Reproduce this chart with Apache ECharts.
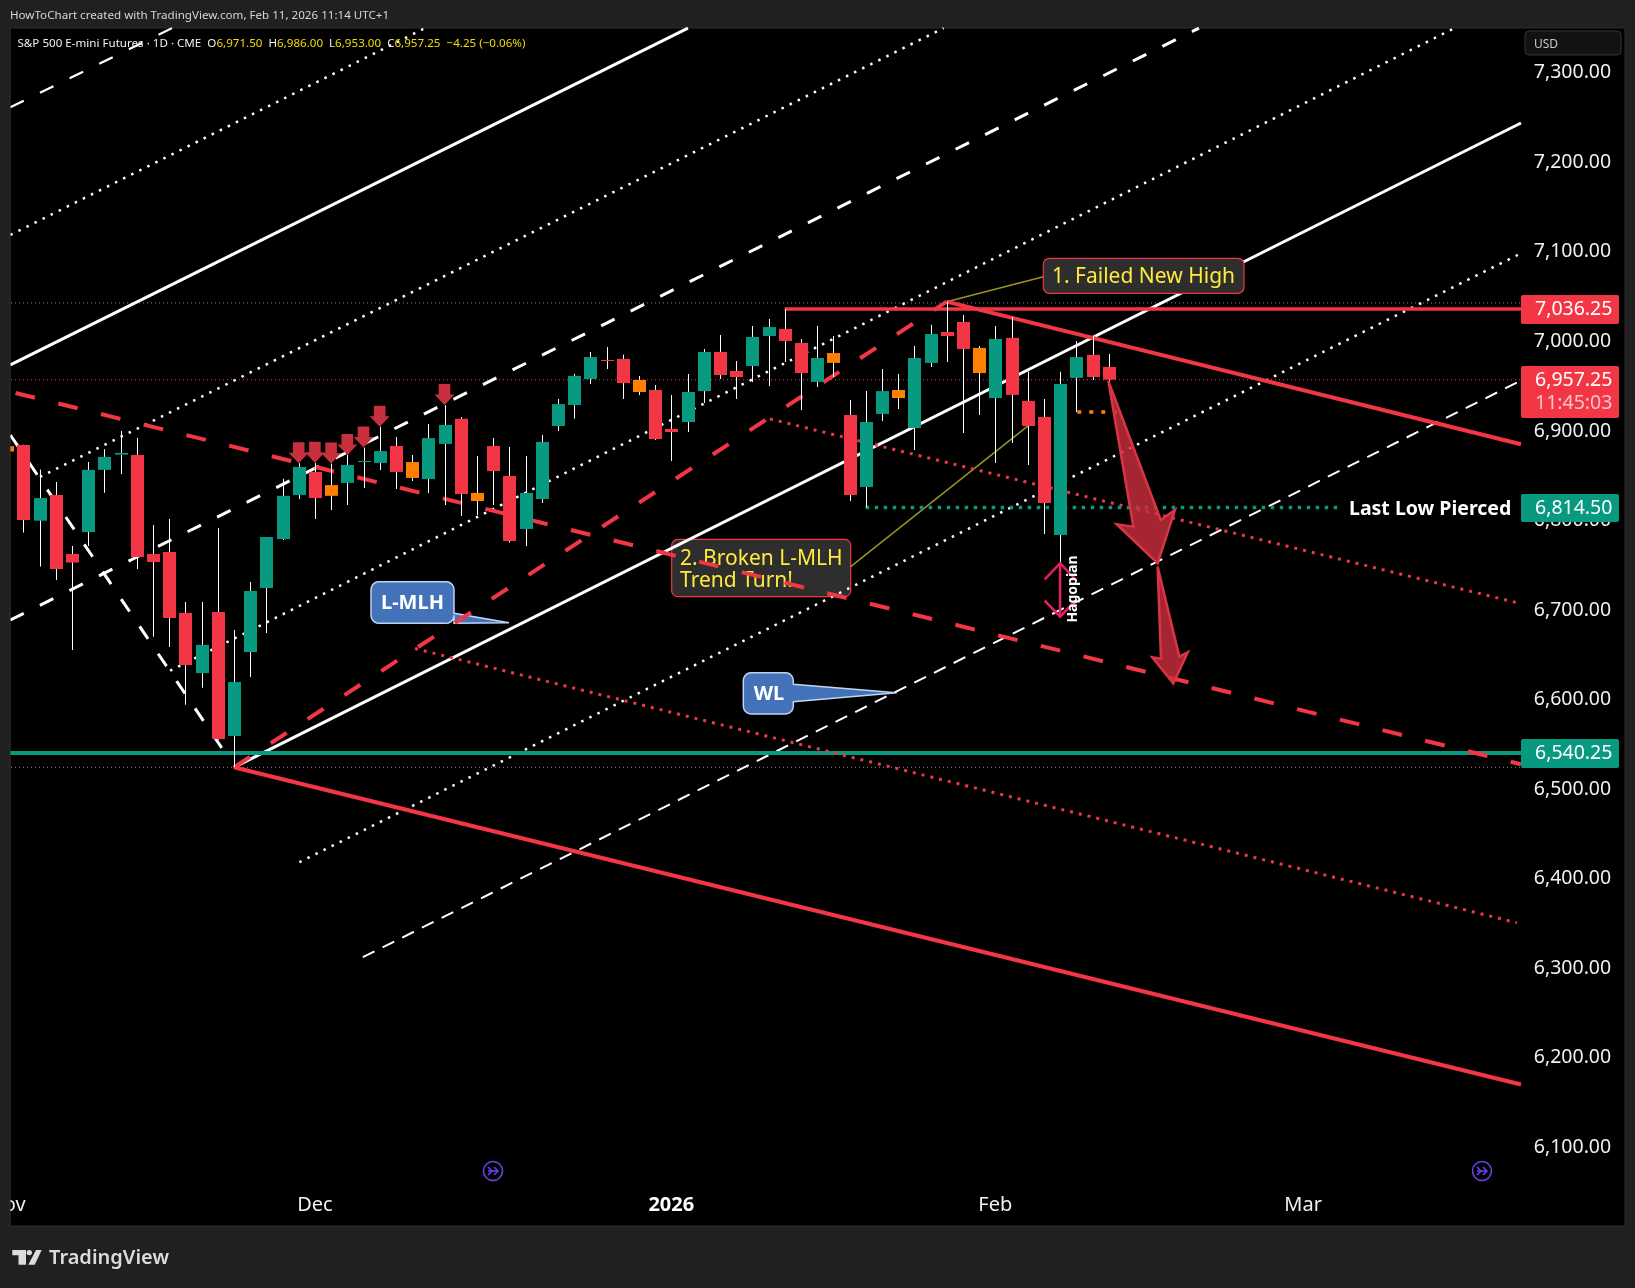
<!DOCTYPE html>
<html>
<head>
<meta charset="utf-8">
<title>S&amp;P 500 E-mini Futures</title>
<script src="https://cdn.jsdelivr.net/npm/echarts@6/dist/echarts.min.js"></script>
<style>
	html, body { margin: 0; padding: 0; background: #202020; }
	#grafico { width: 1635px; height: 1288px; }
</style>
</head>
<body>
<div id="grafico"></div>
<script>
// trading days, one per bar
const dates = [
	'Nov 3','Nov 4','Nov 5','Nov 6','Nov 7','Nov 10','Nov 11','Nov 12','Nov 13','Nov 14','Nov 17','Nov 18','Nov 19','Nov 20','Nov 21','Nov 24','Nov 25','Nov 26','Nov 28',
	'Dec 1','Dec 2','Dec 3','Dec 4','Dec 5','Dec 8','Dec 9','Dec 10','Dec 11','Dec 12','Dec 15','Dec 16','Dec 17','Dec 18','Dec 19','Dec 22','Dec 23','Dec 24','Dec 26','Dec 29','Dec 30','Dec 31',
	'Jan 2','Jan 5','Jan 6','Jan 7','Jan 8','Jan 9','Jan 12','Jan 13','Jan 14','Jan 15','Jan 16','Jan 20','Jan 21','Jan 22','Jan 23','Jan 26','Jan 27','Jan 28','Jan 29','Jan 30',
	'Feb 2','Feb 3','Feb 4','Feb 5','Feb 6','Feb 9','Feb 10','Feb 11','Feb 12','Feb 13','Feb 17','Feb 18','Feb 19','Feb 20','Feb 23','Feb 24','Feb 25','Feb 26','Feb 27',
	'Mar 2','Mar 3','Mar 4','Mar 5','Mar 6','Mar 9','Mar 10','Mar 11','Mar 12','Mar 13','Mar 16','Mar 17','Mar 18','Mar 19'
];
const monthLabels = { 'Nov 3': 'Nov', 'Dec 1': 'Dec', 'Jan 2': '{b|2026}', 'Feb 2': 'Feb', 'Mar 2': 'Mar' };

const opens = [6883,6884.25,6799.75,6828.5,6762.5,6787,6856.5,6873.5,6873.25,6762.5,6764.75,6696.75,6629.5,6697.75,6559.25,6653,6724.5,6779.25,6828.5,6854.25,6839.5,6842,6865.25,6864.25,6883.25,6865.25,6846.25,6885.5,6913.5,6830.75,6883.25,6849.75,6790.5,6824,6905.5,6929,6958,6979.25,6980.5,6957,6945.75,6902.25,6910,6944.5,6988.25,6967,6972.5,7006,7014,6998.25,6954.75,6987,6917.75,6837.5,6919,6945.75,6903.25,6976,7010.5,7021.75,6992.75,6936.75,7004,6933.5,6915.5,6783.75,6959.25,6985,6971.5];
const highs = [6885,6884.5,6857,6843,6771.5,6865.25,6879.5,6900,6892.25,6795,6801.75,6709,6709,6791.5,6677.75,6731.25,6781.5,6846.5,6864,6864.5,6863.5,6873.25,6881.5,6904.75,6893.25,6873.25,6907.75,6929,6915.5,6872,6892,6882,6872,6895.5,6935.75,6963.5,6988.25,6993.75,6985,6961.5,6951.25,6940.25,6963.5,6991.5,7007.25,6978.25,7017.25,7025,7036.25,7002.75,7017.25,7006,6934.5,6944.5,6969.25,6963.5,6995,7018.5,7044.5,7029.5,6995,7017.25,7027.25,6966,6935.75,6966,7000.5,7006,6986];
const lows = [6875,6786.5,6748.5,6733.5,6655.25,6771.5,6831,6852,6745.75,6670,6658.75,6594,6613,6555,6524.25,6625.25,6674.25,6778.25,6824,6801.75,6811.75,6817.25,6836.25,6856.5,6835.25,6844,6830.75,6817.25,6805,6806,6817.25,6775.25,6771.5,6819.5,6900,6913.5,6952.5,6969.25,6935.75,6940.25,6890,6866.5,6898.75,6931.25,6958,6935.75,6954.75,6950.25,6977,6923.5,6949,6960.25,6821.75,6814.5,6911,6924.5,6878.75,6971.5,6977,6897.75,6917.75,6864.25,6886.5,6862,6785,6752,6921.25,6957,6953];
const closes = [6877,6800.5,6825,6745.75,6753,6856.5,6871,6875.5,6759.25,6753.5,6691,6638.5,6661,6556,6619.5,6721.25,6781.5,6827.5,6859.75,6825,6827.5,6862,6866.5,6877.5,6854.25,6847.5,6892,6906.75,6829.5,6821.75,6855.25,6777,6830.75,6887.75,6930,6961.5,6982.5,6978.25,6953.5,6943.5,6891,6898.75,6943.5,6988.25,6962.5,6960.25,7005,7016,7000.5,6964.75,6981.5,6976,6828.5,6910,6944.5,6936.75,6981.5,7008.25,7006,6991.5,6964.75,7002.75,6940.25,6905.5,6819.5,6952.5,6982.5,6960.25,6957.25];
// bars painted orange on the chart
const orangeBars = [0, 20, 25, 29, 39, 51, 55, 60];

// drawings: [bar index, price]
const anchorLow = [14, 6524.25];
const anchorHigh = [58, 7044.4];
const forkMedian = [anchorLow, [93.45, 7244]];
const forkUpper = [[0.2, 6973.7], [42.03, 7350]];
const forkDashedA = [[0.2, 6688.8], [73.57, 7350]];
const forkDashedB = [[0.2, 7261.5], [10.18, 7350]];
const forkDotA = [[0.2, 7118.9], [25.8, 7350]];
const forkDotB = [[2.03, 6848.6], [57.81, 7350]];
const forkDotC = [[10.06, 6632.2], [89.35, 7350]];
const forkDotD = [[18.04, 6418.2], [93.45, 7098.4]];
const warningLine = [[21.96, 6312.2], [93.2, 6954]];
const fallDashed = [[0.2, 6895.5], [13.25, 6545.9]];
const redLower = [anchorLow, [93.45, 6170]];
const redUpper = [anchorHigh, [93.45, 6885.2]];
const redHigh = [[48, 7036.25], [93.45, 7036.25]];
const lowerMlh = [[0.52, 6942.4], [93.45, 6527.6]];
const riseDashed = [anchorLow, anchorHigh];
const redDotA = [[47.09, 6913.4], [93.45, 6707]];
const redDotB = [[25.18, 6656.9], [93.2, 6350.6]];
const supportLine = [[-0.5, 6540.25], [93.45, 6540.25]];
const lastLowLine = [[53, 6814.5], [82.14, 6814.5]];
const orangeStub = [[66.06, 6921.2], [68.7, 6921.2]];
const highDots = [[-0.5, 7043], [93.45, 7043]];
const lowDots = [[-0.5, 6524.25], [93.45, 6524.25]];
const lastPriceDots = [[-0.5, 6957.25], [93.45, 6957.25]];
const calloutOne = [anchorHigh, [63.97, 7072.3]];
const calloutTwo = [[52.07, 6748.4], [63.02, 6905.6]];
const hagopianShaft = [[65, 6752.2], [65, 6692.5]];
const hagopianTop = [[64.05, 6734.3], [65, 6752.2], [65.95, 6734.3]];
const hagopianBottom = [[64.05, 6710.4], [65, 6692.5], [65.95, 6710.4]];
const bigArrowOne = [[67.98, 6955.8], [71.21, 6800.5], [72.09, 6811.7], [71.02, 6752.2], [68.49, 6795.8], [69.52, 6793.1]];
const bigArrowTwo = [[71.02, 6748.4], [72.36, 6647.9], [72.88, 6652.8], [71.99, 6618.1], [70.69, 6647.2], [71.23, 6645.6]];
const signalArrows = [[18, 6864], [19, 6864.5], [20, 6863.5], [21, 6873.25], [22, 6881.5], [23, 6904.75], [27, 6929]];

const VERDE = '#089981', VERMELHO = '#f23645', LARANJA = '#ff8000', BRANCO = '#ffffff', AMARELO = '#ffeb3b';
const FONTE = '"Noto Sans", sans-serif';

function linha(pontos, cor, largura, tipo, z) {
	return {
		type: 'line', xAxisIndex: 1, yAxisIndex: 0, data: pontos, symbol: 'none', silent: true,
		animation: false, z: z || 2, lineStyle: { color: cor, width: largura, type: tipo || 'solid', cap: 'butt', join: 'miter' }
	};
}

function seta(pontos) {
	return {
		type: 'custom', xAxisIndex: 1, yAxisIndex: 0, data: pontos, silent: true, animation: false, z: 5,
		renderItem: function (params, api) {
			if (params.dataIndex !== 0) return null;
			return {
				type: 'polygon',
				shape: { points: pontos.map(p => api.coord(p)) },
				style: { fill: 'rgba(206,47,62,0.8)', stroke: '#d93444', lineWidth: 2.5, lineJoin: 'miter' }
			};
		}
	};
}

function desenharCandle(params, api) {
	const i = api.value(0);
	const x = Math.round(api.coord([i, 0])[0]);
	const yO = api.coord([i, api.value(1)])[1];
	const yH = api.coord([i, api.value(2)])[1];
	const yL = api.coord([i, api.value(3)])[1];
	const yC = api.coord([i, api.value(4)])[1];
	let cor = api.value(4) >= api.value(1) ? VERDE : VERMELHO;
	if (orangeBars.includes(params.dataIndex)) cor = LARANJA;
	const topo = Math.min(yO, yC);
	return {
		type: 'group',
		children: [
			{ type: 'rect', shape: { x: x, y: yH, width: 1, height: yL - yH }, style: { fill: BRANCO } },
			{ type: 'rect', shape: { x: x - 6, y: topo, width: 13, height: Math.max(Math.abs(yC - yO), 1) }, style: { fill: cor } }
		]
	};
}

// rounded bubble with a pointer leaving its right side
function balao(x0, y0, x1, y1, r, ponta) {
	const pts = [];
	const canto = (cx, cy, ini) => {
		for (let k = 0; k <= 5; k++) {
			const a = ini + k * Math.PI / 10;
			pts.push([cx + r * Math.cos(a), cy + r * Math.sin(a)]);
		}
	};
	canto(x0 + r, y0 + r, Math.PI);
	canto(x1 - r, y0 + r, -Math.PI / 2);
	ponta.forEach(p => pts.push(p));
	canto(x1 - r, y1 - r, 0);
	canto(x0 + r, y1 - r, Math.PI / 2);
	return pts;
}

function etiqueta(x, y, w, h, cor, z) {
	return { type: 'rect', z: z || 20, shape: { x: x, y: y, width: w, height: h, r: 2 }, style: { fill: cor } };
}

function texto(x, y, txt, font, cor, z, alinhar) {
	return {
		type: 'text', x: x, y: y, z: z || 21, silent: true,
		style: { text: txt, font: font, fill: cor, align: alinhar || 'left', verticalAlign: 'middle' }
	};
}

function iconeRoxo(cx, cy) {
	const st = { stroke: '#6a3fe6', lineWidth: 1.6, fill: 'none' };
	return {
		type: 'group', x: cx, y: cy, z: 6,
		children: [
			{ type: 'circle', shape: { cx: 0, cy: 0, r: 9.5 }, style: st },
			{ type: 'polyline', shape: { points: [[-5, 0], [5, 0]] }, style: st },
			{ type: 'polyline', shape: { points: [[1, -4], [5, 0], [1, 4]] }, style: st },
			{ type: 'polyline', shape: { points: [[-5, -4], [-1, 0], [-5, 4]] }, style: st }
		]
	};
}

const tagFont = '19.5px ' + FONTE;
const boxFont = '21px ' + FONTE;
const elementos = [
	// panel and frame
	{ type: 'rect', z: -10, shape: { x: 10, y: 28, width: 1615, height: 1198 }, style: { fill: '#000000', stroke: '#2c2c2c', lineWidth: 1 } },
	{ type: 'rect', z: 100, shape: { x: 0, y: 28, width: 10, height: 1198 }, style: { fill: '#202020' } },
	{ type: 'rect', z: 100, shape: { x: 9.5, y: 28, width: 1, height: 1198 }, style: { fill: '#2c2c2c' } },
	texto(10, 15.5, 'HowToChart created with TradingView.com, Feb 11, 2026 11:14 UTC+1', '11.6px ' + FONTE, '#d6d6d6', 30),
	{
		type: 'text', x: 17.5, y: 44, z: 30, silent: true,
		style: {
			text: 'S&P 500 E-mini Futures · 1D · CME  O{v|6,971.50}  H{v|6,986.00}  L{v|6,953.00}  C{v|6,957.25}  {v|−4.25 (−0.06%)}',
			font: '11.6px ' + FONTE, fill: '#f0f0f0', verticalAlign: 'middle',
			rich: { v: { font: '11.6px ' + FONTE, fill: '#f5dd00' } }
		}
	},
	// USD box
	{ type: 'rect', z: 20, shape: { x: 1525, y: 31, width: 96, height: 24, r: 4 }, style: { fill: '#121212', stroke: '#343434', lineWidth: 1 } },
	texto(1534, 45, 'USD', '12px ' + FONTE, '#c8c8c8', 21),
	// price tags
	etiqueta(1521, 295, 98, 29, VERMELHO),
	texto(1535, 309, '7,036.25', tagFont, BRANCO),
	etiqueta(1521, 366, 98, 52, VERMELHO),
	texto(1535, 380, '6,957.25', tagFont, BRANCO),
	texto(1535, 403, '11:45:03', tagFont, '#fbc4c9'),
	etiqueta(1521, 494, 98, 28, VERDE),
	texto(1535, 508.5, '6,814.50', tagFont, BRANCO),
	etiqueta(1521, 739, 98, 29, VERDE),
	texto(1535, 753, '6,540.25', tagFont, BRANCO),
	texto(1349, 509, 'Last Low Pierced', 'bold 19.5px ' + FONTE, BRANCO),
	// callouts
	{ type: 'rect', z: 1, shape: { x: 671.7, y: 539.3, width: 179, height: 57.4, r: 6 }, style: { fill: '#2e2e2e', stroke: VERMELHO, lineWidth: 1.2 } },
	texto(680, 559, '2. Broken L-MLH', boxFont, AMARELO, 1),
	texto(680, 581, 'Trend Turn!', boxFont, AMARELO, 1),
	{ type: 'rect', z: 8, shape: { x: 1043.3, y: 258.3, width: 200.7, height: 35, r: 6 }, style: { fill: '#2e2e2e', stroke: VERMELHO, lineWidth: 1.2 } },
	texto(1052, 277.5, '1. Failed New High', boxFont, AMARELO, 9),
	{
		type: 'polygon', z: 1,
		shape: { points: balao(371, 581.7, 454, 623.3, 8, [[454, 613.3], [509, 622.7], [454, 623.3]]) },
		style: { fill: '#4472b8', stroke: '#bcd4f2', lineWidth: 1.5 }
	},
	texto(412.5, 603, 'L-MLH', 'bold 20px ' + FONTE, BRANCO, 1, 'center'),
	{
		type: 'polygon', z: 1,
		shape: { points: balao(743.3, 672.7, 793.3, 714, 8, [[793.3, 684.3], [896.7, 692.7], [793.3, 701.7]]) },
		style: { fill: '#4472b8', stroke: '#bcd4f2', lineWidth: 1.5 }
	},
	texto(769, 694.5, 'WL', 'bold 20px ' + FONTE, BRANCO, 1, 'center'),
	{
		type: 'text', x: 1072.7, y: 589, z: 9, rotation: Math.PI / 2, silent: true,
		style: { text: 'Hagopian', font: 'bold 14px ' + FONTE, fill: BRANCO, align: 'center', verticalAlign: 'middle' }
	},
	iconeRoxo(493, 1171),
	iconeRoxo(1482, 1171),
	// TradingView mark
	{ type: 'polygon', z: 30, shape: { points: [[12.3, 1250], [26, 1250], [26, 1264.7], [18.5, 1264.7], [18.5, 1255.3], [12.3, 1255.3]] }, style: { fill: '#dcdcdc' } },
	{ type: 'circle', z: 30, shape: { cx: 29.3, cy: 1252.6, r: 2.7 }, style: { fill: '#dcdcdc' } },
	{ type: 'polygon', z: 30, shape: { points: [[36, 1250], [41.7, 1250], [34.7, 1264.7], [28.3, 1264.7]] }, style: { fill: '#dcdcdc' } },
	texto(49, 1258.5, 'TradingView', '600 20px ' + FONTE, '#dcdcdc', 30)
];

const serieCandles = {
	type: 'custom', xAxisIndex: 0, yAxisIndex: 0, silent: true, animation: false, z: 3,
	renderItem: desenharCandle,
	encode: { x: 0, y: [1, 2, 3, 4] },
	data: opens.map((o, i) => [i, o, highs[i], lows[i], closes[i]])
};

const series = [
	linha(highDots, '#8a8a8a', 1, [1, 3]),
	linha(lowDots, '#8a8a8a', 1, [1, 3]),
	linha(lastPriceDots, VERMELHO, 1, [1, 3]),
	linha(forkUpper, BRANCO, 3),
	linha(forkMedian, BRANCO, 3),
	linha(forkDashedA, BRANCO, 3, [15, 18]),
	linha(forkDashedB, BRANCO, 2.2, [15, 18]),
	linha(fallDashed, BRANCO, 3, [15, 18]),
	linha(forkDotA, BRANCO, 2.5, [2.5, 6.5]),
	linha(forkDotB, BRANCO, 2.5, [2.5, 6.5]),
	linha(forkDotC, BRANCO, 2.5, [2.5, 6.5]),
	linha(forkDotD, BRANCO, 2.5, [2.5, 6.5]),
	linha(warningLine, BRANCO, 2, [13, 9]),
	linha(calloutOne, '#9a9420', 1.5),
	linha(calloutTwo, '#9a9420', 1.5),
	linha(supportLine, VERDE, 4),
	linha(redLower, VERMELHO, 4),
	linha(redUpper, VERMELHO, 4),
	linha(redHigh, VERMELHO, 3.5),
	linha(lowerMlh, VERMELHO, 4, [20, 24]),
	linha(riseDashed, VERMELHO, 4, [19, 25]),
	linha(redDotA, VERMELHO, 3, [3, 6]),
	linha(redDotB, VERMELHO, 3, [3, 6]),
	linha(lastLowLine, VERDE, 3.5, [3.5, 5.5]),
	linha(orangeStub, LARANJA, 3.5, [4, 8]),
	serieCandles,
	linha(hagopianShaft, '#e91e63', 2.5, 'solid', 4),
	linha(hagopianTop, '#e91e63', 2.5, 'solid', 4),
	linha(hagopianBottom, '#e91e63', 2.5, 'solid', 4),
	seta(bigArrowOne),
	seta(bigArrowTwo),
	{
		type: 'scatter', xAxisIndex: 1, yAxisIndex: 0, data: signalArrows, silent: true, animation: false, z: 5,
		symbol: 'path://M4.2 0H15.8V10.5H20L10 21L0 10.5H4.2Z', symbolSize: [20, 21], symbolOffset: [0, '-50%'],
		itemStyle: { color: '#c9303e', opacity: 1 }
	}
];

const grafico = echarts.init(document.getElementById('grafico'));
grafico.setOption({
	animation: false,
	backgroundColor: '#202020',
	grid: { left: -1, top: 28.1, width: 1522.8, height: 1119, outerBoundsMode: 'none', containLabel: false },
	xAxis: [{
		type: 'category', data: dates, boundaryGap: true,
		axisLine: { show: false }, axisTick: { show: false }, splitLine: { show: false },
		axisLabel: {
			margin: 48, color: '#f0f0f0', fontFamily: FONTE, fontSize: 20,
			interval: (i, v) => v in monthLabels,
			formatter: v => monthLabels[v] || '',
			rich: { b: { fontFamily: FONTE, fontSize: 20, fontWeight: 'bold', color: '#ffffff' } }
		}
	}, {
		type: 'value', show: false, min: -0.5, max: 93.5, splitLine: { show: false }
	}],
	yAxis: [{
		type: 'value', position: 'right', min: 6100, max: 7350, interval: 100, scale: false,
		axisLine: { show: false }, axisTick: { show: false }, splitLine: { show: false },
		axisLabel: {
			margin: 12, color: '#f0f0f0', fontFamily: FONTE, fontSize: 19.5, showMaxLabel: false, padding: [0, 0, 2, 0],
			formatter: v => v.toLocaleString('en-US', { minimumFractionDigits: 2, maximumFractionDigits: 2 })
		}
	}],
	series: series,
	graphic: { elements: elementos }
});
</script>
</body>
</html>
